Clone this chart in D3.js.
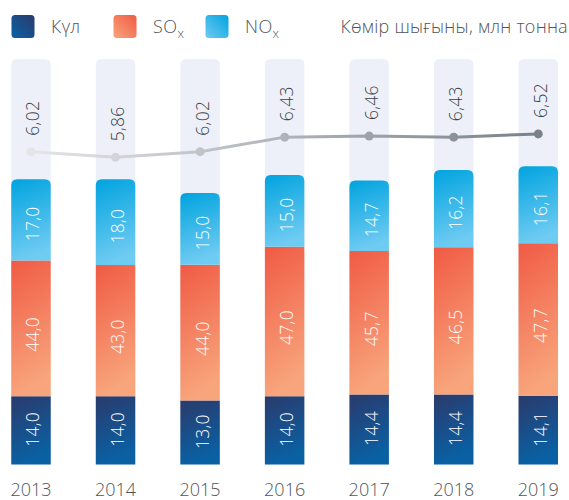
<!doctype html>
<html lang="kk">
<head>
<meta charset="utf-8">
<title>Шығарындылар</title>
<script src="https://cdnjs.cloudflare.com/ajax/libs/d3/7.8.5/d3.min.js"></script>
<style>
  body { margin: 0; background: #fff; }
  text { font-family: "Open Sans", "Noto Sans", sans-serif; font-weight: 300; }
</style>
</head>
<body>
<svg id="svg" width="569" height="500"></svg>
<script>
// data
var years = ['2013', '2014', '2015', '2016', '2017', '2018', '2019'];
var kul = [14.0, 14.0, 13.0, 14.0, 14.4, 14.4, 14.1];
var sox = [44.0, 43.0, 44.0, 47.0, 45.7, 46.5, 47.7];
var nox = [17.0, 18.0, 15.0, 15.0, 14.7, 16.2, 16.1];
var coal = [6.02, 5.86, 6.02, 6.43, 6.46, 6.43, 6.52];

var fmt = function(v, n) { return v.toFixed(n).replace('.', ','); };

var svg = d3.select('#svg');
var baseY = 464.5;
var bgTop = 59;

var x = d3.scaleBand()
  .domain(years)
  .range([11.25, 558])
  .paddingInner(0.533)
  .paddingOuter(0);
var bw = x.bandwidth();

// every series has its own height scale in the original infographic
var hKul = d3.scaleLinear().domain([-1.86, 20]).range([0, 94.0]);
var hSox = d3.scaleLinear().domain([14.14, 50]).range([0, 163.2]);
var hNox = d3.scaleLinear().domain([-0.36, 20]).range([0, 95.1]);
var yCoal = d3.scaleLinear().domain([5, 7]).range([187.9, 116.9]);

// gradients
var defs = svg.append('defs');
function grad(id, c1, c2, x1, x2, y2) {
  var g = defs.append('linearGradient').attr('id', id)
    .attr('x1', x1).attr('y1', 0).attr('x2', x2).attr('y2', y2);
  g.append('stop').attr('offset', '0%').attr('stop-color', c1);
  g.append('stop').attr('offset', '100%').attr('stop-color', c2);
}
grad('gKul', '#2b3a6c', '#0961a4', 0, 0.25, 1);
grad('gSox', '#f05a44', '#f8a57c', 0, 0.2, 1);
grad('gNox', '#00a3df', '#6ecbf2', 0, 0.2, 1);
grad('gKulL', '#2b3a6c', '#0961a4', 1, 0, 1);
grad('gSoxL', '#f05a44', '#f8a57c', 1, 0, 1);
grad('gNoxL', '#00a3df', '#6ecbf2', 1, 0, 1);

var lg = defs.append('linearGradient').attr('id', 'gLine')
  .attr('gradientUnits', 'userSpaceOnUse')
  .attr('x1', x('2013') + bw / 2).attr('x2', x('2019') + bw / 2)
  .attr('y1', 0).attr('y2', 0);
lg.append('stop').attr('offset', '0%').attr('stop-color', '#e4e5e7');
lg.append('stop').attr('offset', '100%').attr('stop-color', '#7a818a');
var lgl = defs.append('linearGradient').attr('id', 'gLineL')
  .attr('x1', 0).attr('x2', 1).attr('y1', 0).attr('y2', 0);
lgl.append('stop').attr('offset', '0%').attr('stop-color', '#d8dade');
lgl.append('stop').attr('offset', '100%').attr('stop-color', '#7a818a');

function roundTop(x0, y0, w, h, r) {
  return 'M' + x0 + ',' + (y0 + h) +
    'V' + (y0 + r) +
    'Q' + x0 + ',' + y0 + ' ' + (x0 + r) + ',' + y0 +
    'H' + (x0 + w - r) +
    'Q' + (x0 + w) + ',' + y0 + ' ' + (x0 + w) + ',' + (y0 + r) +
    'V' + (y0 + h) + 'Z';
}

// background columns
svg.selectAll('.bg')
  .data(years)
  .enter()
  .append('path')
  .attr('class', 'bg')
  .attr('d', function(d) { return roundTop(x(d), bgTop, bw, baseY - bgTop, 6); })
  .attr('fill', '#edf0f8');

// stacked segments
var rows = years.map(function(y, i) {
  var k = hKul(kul[i]), s = hSox(sox[i]), n = hNox(nox[i]);
  return [
    { year: y, val: fmt(kul[i], 1), y0: baseY - k, h: k, fill: 'url(#gKul)', shift: -1, top: false },
    { year: y, val: fmt(sox[i], 1), y0: baseY - k - s, h: s, fill: 'url(#gSox)', shift: 6, top: false },
    { year: y, val: fmt(nox[i], 1), y0: baseY - k - s - n, h: n, fill: 'url(#gNox)', shift: 4, top: true }
  ];
});
var segs = [].concat.apply([], rows);

svg.selectAll('.seg')
  .data(segs)
  .enter()
  .append('path')
  .attr('class', 'seg')
  .attr('d', function(d) {
    return d.top ? roundTop(x(d.year), d.y0, bw, d.h, 6)
                 : 'M' + x(d.year) + ',' + d.y0 + 'h' + bw + 'v' + d.h + 'h' + (-bw) + 'Z';
  })
  .attr('fill', function(d) { return d.fill; });

svg.selectAll('.segLabel')
  .data(segs)
  .enter()
  .append('text')
  .attr('class', 'segLabel')
  .attr('transform', function(d) {
    return 'translate(' + (x(d.year) + bw / 2 + 8.5) + ',' + (d.y0 + d.h / 2 + d.shift) + ') rotate(-90)';
  })
  .attr('text-anchor', 'middle')
  .attr('font-size', 17.5)
  .attr('letter-spacing', 0.3)
  .attr('fill', '#fff')
  .text(function(d) { return d.val; });

// coal line
var line = d3.line()
  .x(function(d, i) { return x(years[i]) + bw / 2; })
  .y(function(d) { return yCoal(d); });

svg.append('path')
  .datum(coal)
  .attr('d', line)
  .attr('fill', 'none')
  .attr('stroke', 'url(#gLine)')
  .attr('stroke-width', 3);

svg.selectAll('.pt')
  .data(coal)
  .enter()
  .append('circle')
  .attr('class', 'pt')
  .attr('cx', function(d, i) { return x(years[i]) + bw / 2; })
  .attr('cy', function(d) { return yCoal(d); })
  .attr('r', 4.5)
  .attr('fill', 'url(#gLine)');

svg.selectAll('.coalLabel')
  .data(coal)
  .enter()
  .append('text')
  .attr('class', 'coalLabel')
  .attr('transform', function(d, i) {
    return 'translate(' + (x(years[i]) + bw / 2 + 8.5) + ',' + (yCoal(d) - 16) + ') rotate(-90)';
  })
  .attr('text-anchor', 'start')
  .attr('font-size', 17.5)
  .attr('letter-spacing', 0.3)
  .attr('fill', '#3b4046')
  .text(function(d) { return fmt(d, 2); });

// x axis labels
svg.append('g')
  .attr('transform', 'translate(0,' + baseY + ')')
  .call(d3.axisBottom(x).tickSize(0).tickPadding(19))
  .call(function(g) {
    g.select('.domain').remove();
    g.selectAll('text')
      .attr('font-size', 18)
      .attr('fill', '#50555b')
      .style('font-family', '"Open Sans", sans-serif')
      .style('font-weight', 300);
  });

// legend
var legend = svg.append('g');
var items = [
  { x: 11.5, fill: 'url(#gKulL)', label: 'Күл', sub: '' },
  { x: 113.5, fill: 'url(#gSoxL)', label: 'SO', sub: 'x' },
  { x: 205.5, fill: 'url(#gNoxL)', label: 'NO', sub: 'x' }
];
items.forEach(function(it) {
  legend.append('rect')
    .attr('x', it.x).attr('y', 15)
    .attr('width', 23).attr('height', 23)
    .attr('rx', 3.5)
    .attr('fill', it.fill);
  var t = legend.append('text')
    .attr('x', it.x + 39.5).attr('y', 32.5)
    .attr('font-size', 18)
    .attr('letter-spacing', 0.4)
    .attr('fill', '#50555b')
    .text(it.label);
  if (it.sub) {
    t.append('tspan').attr('dy', 5).attr('font-size', 13).text(it.sub);
  }
});
legend.append('line')
  .attr('x1', 302).attr('x2', 326.5)
  .attr('y1', 25.7).attr('y2', 25.7)
  .attr('stroke', 'url(#gLineL)')
  .attr('stroke-width', 3.5)
  .attr('stroke-linecap', 'round');
legend.append('text')
  .attr('x', 340.5).attr('y', 32.5)
  .attr('font-size', 18)
  .attr('letter-spacing', 0.25)
  .attr('fill', '#50555b')
  .text('Көмір шығыны, млн тонна');
</script>
</body>
</html>
